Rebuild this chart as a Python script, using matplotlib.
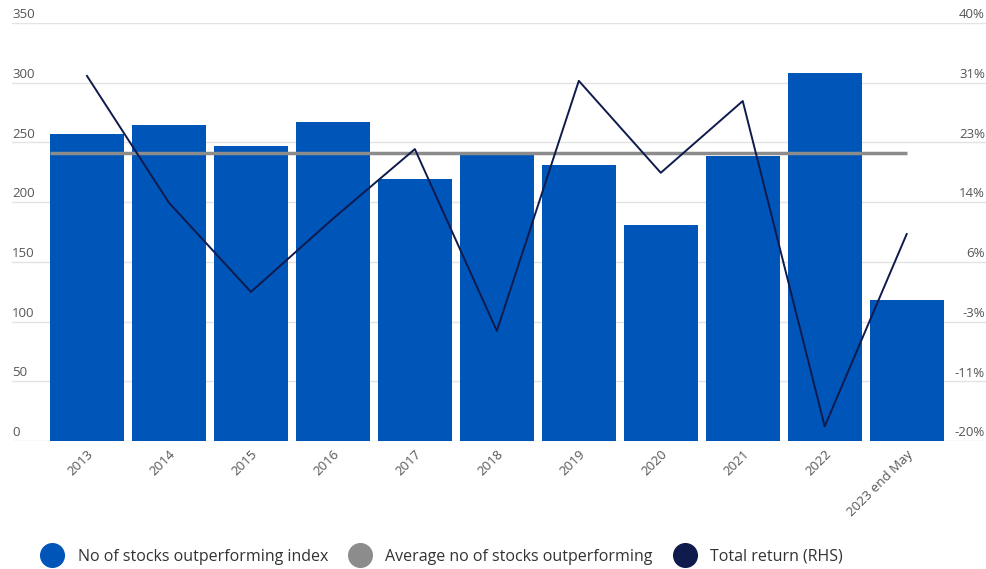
import matplotlib.pyplot as plt
import matplotlib.transforms as mtransforms
from matplotlib.lines import Line2D
import numpy as np

# categories and values
years = ['2013', '2014', '2015', '2016', '2017', '2018', '2019', '2020', '2021', '2022', '2023 end May']
outperforming = [257, 265, 247, 267, 219, 240, 231, 181, 239, 308, 118]
avg_outperforming = 241
total_return = [32.4, 14.2, 1.4, 11.9, 21.9, -4.2, 31.7, 18.5, 28.8, -17.9, 9.7]

left_ticks = [0, 50, 100, 150, 200, 250, 300, 350]
right_ticks = [-20, -11.43, -2.86, 5.71, 14.29, 22.86, 31.43, 40]
right_labels = ['-20%', '-11%', '-3%', '6%', '14%', '23%', '31%', '40%']

blue = '#0055b8'
grey = '#8c8c8c'
navy = '#0f1a4d'
txt = '#555555'

plt.rcParams['font.family'] = ['Open Sans', 'DejaVu Sans']

fig = plt.figure(figsize=(9.87, 5.69), dpi=100)
ax = fig.add_axes([12 / 987, 1 - 441 / 569, 975 / 987, 418 / 569])
x = np.arange(len(years))

ax.bar(x, outperforming, width=0.9, color=blue, zorder=2)
ax.hlines(avg_outperforming, -0.45, x[-1], color=grey, lw=2.5, zorder=3)

ax.set_xlim(-0.915, 10.98)
ax.set_ylim(0, 350)
ax.set_yticks(left_ticks)
ax.yaxis.grid(True, color='#e3e3e3', lw=1, zorder=0)
ax.tick_params(axis='y', length=0, labelleft=False)
ax.tick_params(axis='x', length=0, pad=5)
ax.set_xticks(x)
ax.set_xticklabels(years, rotation=45, ha='right', rotation_mode='anchor',
                   fontsize=9.5, color=txt)
for s in ax.spines.values():
    s.set_visible(False)

tr = mtransforms.blended_transform_factory(ax.transAxes, ax.transData)
for v in left_ticks:
    ax.text(0.0, v + 1.5, str(v), transform=tr, ha='left', va='bottom',
            fontsize=9.5, color=txt)

ax2 = ax.twinx()
ax2.plot(x, total_return, color=navy, lw=1.4, zorder=4)
ax2.set_ylim(-20, 40)
ax2.set_yticks([])
for s in ax2.spines.values():
    s.set_visible(False)
tr2 = mtransforms.blended_transform_factory(ax2.transAxes, ax2.transData)
for v, lab in zip(right_ticks, right_labels):
    ax2.text(0.998, v + 0.25, lab, transform=tr2, ha='right', va='bottom',
             fontsize=9.5, color=txt)

handles = [
    Line2D([], [], ls='none', marker='o', markersize=17, color=blue),
    Line2D([], [], ls='none', marker='o', markersize=17, color=grey),
    Line2D([], [], ls='none', marker='o', markersize=17, color=navy),
]
labels = ['No of stocks outperforming index', 'Average no of stocks outperforming', 'Total return (RHS)']
fig.legend(handles, labels, loc='lower left', bbox_to_anchor=(0.022, -0.018), ncol=3,
           frameon=False, fontsize=11.5, handletextpad=0.6, columnspacing=1.0,
           labelcolor='#333333')

fig.savefig('out.png', dpi=100)
